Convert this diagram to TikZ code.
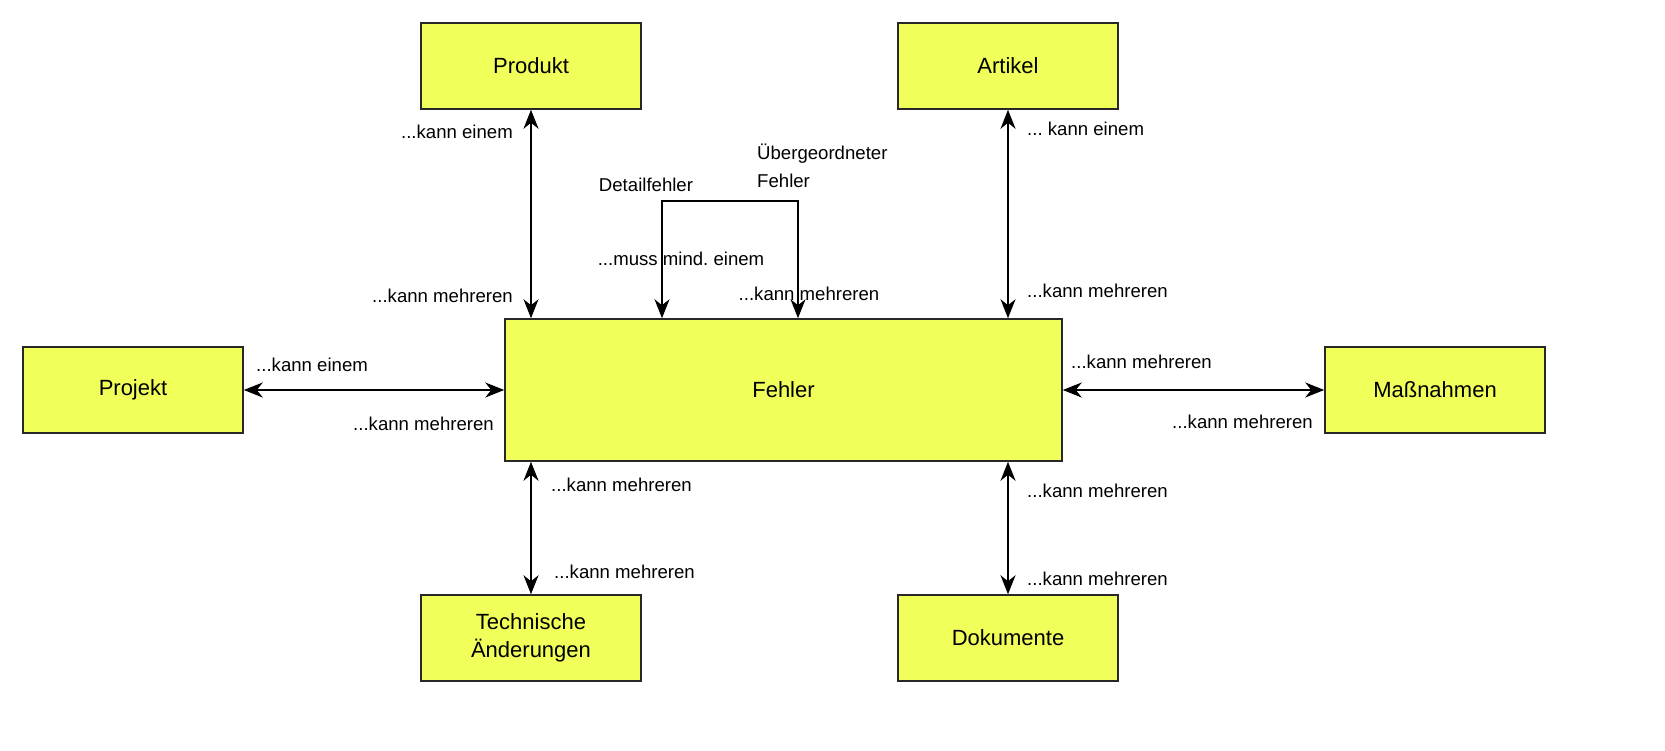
\documentclass[tikz,border=0pt]{standalone}
\usepackage{fontspec}
\setmainfont{Liberation Sans}
\usetikzlibrary{arrows.meta}
\definecolor{boxyellow}{RGB}{240,255,90}
\definecolor{boxline}{RGB}{40,40,40}
\frenchspacing
\begin{document}
\begin{tikzpicture}[x=1pt,y=-1pt,
  entity/.style={draw=boxline,line width=1.5pt,fill=boxyellow,minimum width=220pt,minimum height=86pt,inner sep=0pt,font=\fontsize{22}{24}\selectfont,align=center},
  lbl/.style={inner sep=0pt,font=\fontsize{18.6}{22}\selectfont},
  conn/.style={line width=2pt,{Stealth[length=19pt,width=15pt,inset=6pt]}-{Stealth[length=19pt,width=15pt,inset=6pt]}}]
\path[use as bounding box,fill=white] (0,0) rectangle (1665,750);
\node[entity] (produkt) at (531,66) {Produkt};
\node[entity] (artikel) at (1008,66) {Artikel};
\node[entity] (projekt) at (133,390) {Projekt};
\node[entity] (massn) at (1435,390) {Maßnahmen};
\node[entity,minimum width=557pt,minimum height=142pt] (fehler) at (783.5,390) {Fehler};
\node[entity,align=center] (tech) at (531,638) {Technische\\[4pt]Änderungen};
\node[entity] (doku) at (1008,638) {Dokumente};
\coordinate (lt) at (662,201);
\coordinate (rt) at (798,201);
\draw[conn] (produkt.south) -- (fehler.north -| produkt.south);
\draw[conn] (artikel.south) -- (fehler.north -| artikel.south);
\draw[conn] (projekt.east) -- (fehler.west);
\draw[conn] (fehler.east) -- (massn.west);
\draw[conn] (fehler.south -| tech.north) -- (tech.north);
\draw[conn] (fehler.south -| doku.north) -- (doku.north);
\draw[conn] (fehler.north -| rt) -- (rt) -- (lt) -- (fehler.north -| lt);
\node[lbl,anchor=east] (l1) at (513,132) {...kann einem};
\node[lbl,anchor=east] (l2) at (513,296) {...kann mehreren};
\node[lbl] (l3) at (646,185) {Detailfehler};
\node[lbl,anchor=west,align=left] (l4) at (757,166) {Übergeordneter\\[6pt]Fehler};
\node[lbl] (l5) at (681,259) {...muss mind. einem};
\node[lbl] (l6) at (809,294) {...kann mehreren};
\node[lbl,anchor=west] (l7) at (1027,129) {... kann einem};
\node[lbl,anchor=west] (l8) at (1027,291) {...kann mehreren};
\node[lbl,anchor=west] (l9) at (256,365) {...kann einem};
\node[lbl,anchor=east] (l10) at (494,424) {...kann mehreren};
\node[lbl,anchor=west] (l11) at (1071,362) {...kann mehreren};
\node[lbl,anchor=east] (l12) at (1313,422) {...kann mehreren};
\node[lbl,anchor=west] (l13) at (551,485) {...kann mehreren};
\node[lbl,anchor=west] (l14) at (554,572) {...kann mehreren};
\node[lbl,anchor=west] (l15) at (1027,491) {...kann mehreren};
\node[lbl,anchor=west] (l16) at (1027,579) {...kann mehreren};
\end{tikzpicture}
\end{document}
